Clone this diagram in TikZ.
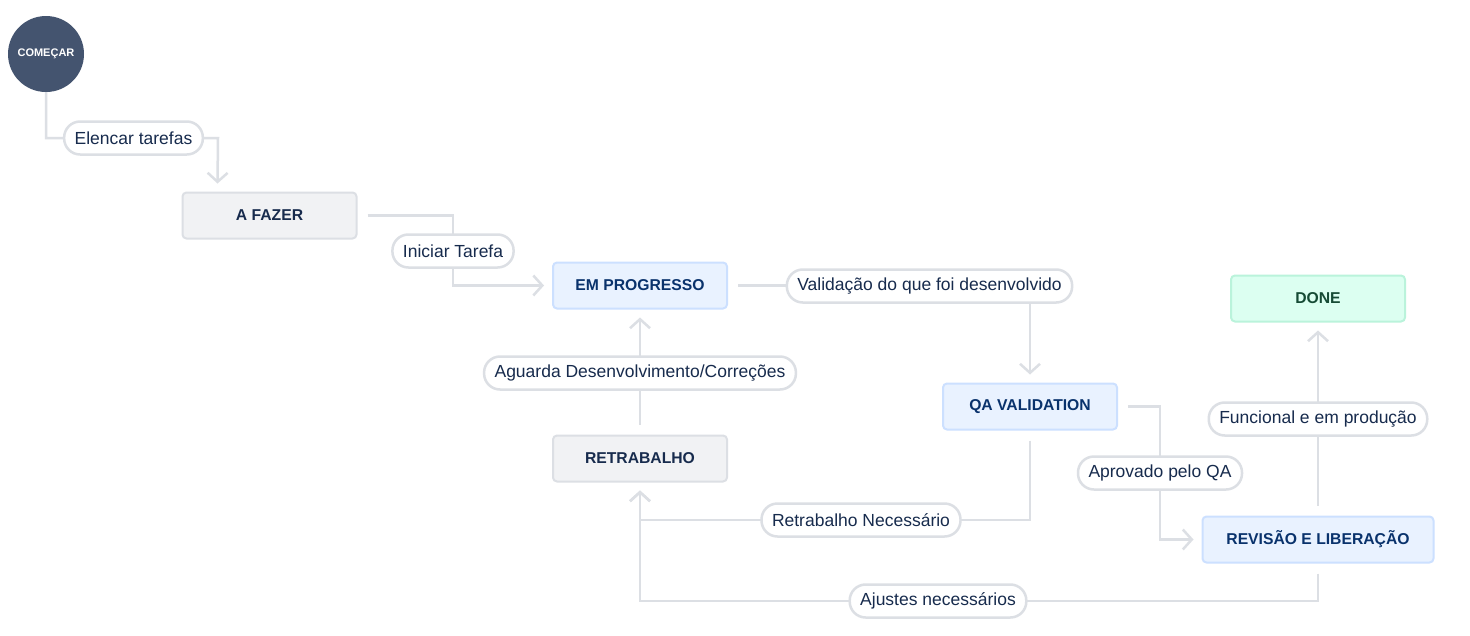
\documentclass[tikz,border=0pt]{standalone}
\usepackage{fontspec}
\setmainfont{Liberation Sans}
\usetikzlibrary{arrows.meta}
\definecolor{linec}{HTML}{DCDFE4}
\definecolor{navy}{HTML}{172B4D}
\definecolor{bluetext}{HTML}{09326C}
\definecolor{grayfill}{HTML}{F1F2F4}
\definecolor{bluefill}{HTML}{E9F2FF}
\definecolor{blueline}{HTML}{CCE0FF}
\definecolor{greenfill}{HTML}{DCFFF1}
\definecolor{greenline}{HTML}{BAF3DB}
\definecolor{greentext}{HTML}{164B35}
\definecolor{startc}{HTML}{44546F}
\begin{document}
\begin{tikzpicture}[x=1pt,y=-1pt,
  boxbase/.style={rectangle,rounded corners=4pt,line width=2pt,minimum width=174pt,minimum height=46pt,font=\fontsize{15.7}{18}\selectfont\bfseries,inner sep=0pt},
  gbox/.style={boxbase,draw=linec,fill=grayfill,text=navy},
  bbox/.style={boxbase,draw=blueline,fill=bluefill,text=bluetext},
  dbox/.style={boxbase,draw=greenline,fill=greenfill,text=greentext},
  circ/.style={circle,fill=startc,minimum size=76pt,inner sep=0pt,text=white,font=\fontsize{11}{13}\selectfont\bfseries},
  edge/.style={draw=linec,line width=2.5pt,-{Straight Barb[length=9pt,width=20pt]}},
  pill/.style={rectangle,draw=linec,line width=2.5pt,fill=white,rounded corners=16pt,minimum height=33pt,inner xsep=10.5pt,inner ysep=0pt,font=\fontsize{17.5}{20}\selectfont,text=navy}]
\useasboundingbox (0,0) rectangle (1470,635);
\fill[white] (0,0) rectangle (1470,635);
% nodes
\node[circ] (start) at (46,54) {COMEÇAR};
\node[gbox] (afazer) at (269.5,215.5) {A FAZER};
\node[bbox] (emprog) at (640,285.5) {EM PROGRESSO};
\node[bbox] (qa) at (1030,406.5) {QA VALIDATION};
\node[gbox] (retrab) at (640,458.5) {RETRABALHO};
\node[dbox] (done) at (1318,298.5) {DONE};
\node[bbox,minimum width=231pt] (rev) at (1318,539.5) {REVISÃO E LIBERAÇÃO};
% edges with labels
\draw[edge] (start.south) -- (46,138) -- (218,138) -- ([xshift=36pt,yshift=8pt]afazer.north west)
  node[pill] (l1) at (133.5,138) {Elencar tarefas};
\draw[edge] ([xshift=10pt]afazer.east) -- (453,215.5) -- (453,285.5) -- ([xshift=-8pt]emprog.west)
  node[pill] (l2) at (453,251) {Iniciar Tarefa};
\draw[edge] ([xshift=10pt]emprog.east) -| ([yshift=8pt]qa.north)
  node[pill] (l3) at (929.5,286) {Validação do que foi desenvolvido};
\draw[edge] ([xshift=10pt]qa.east) -- (1160,406.5) |- ([xshift=-8pt]rev.west)
  node[pill] (l4) at (1160,473) {Aprovado pelo QA};
\draw[edge] ([yshift=-10pt]qa.south) |- (640,520) -- ([yshift=-8pt]retrab.south)
  node[pill] (l5) at (861,520) {Retrabalho Necessário};
\draw[edge] ([yshift=10pt]retrab.north) -- ([yshift=-8pt]emprog.south)
  node[pill] (l6) at (640,373) {Aguarda Desenvolvimento/Correções};
\draw[edge] ([yshift=10pt]rev.north) -- ([yshift=-8pt]done.south)
  node[pill] (l7) at (1318,419) {Funcional e em produção};
\draw[edge] ([yshift=-10pt]rev.south) |- (640,601) -- ([yshift=-8pt]retrab.south)
  node[pill] (l8) at (938,601) {Ajustes necessários};
\end{tikzpicture}
\end{document}
